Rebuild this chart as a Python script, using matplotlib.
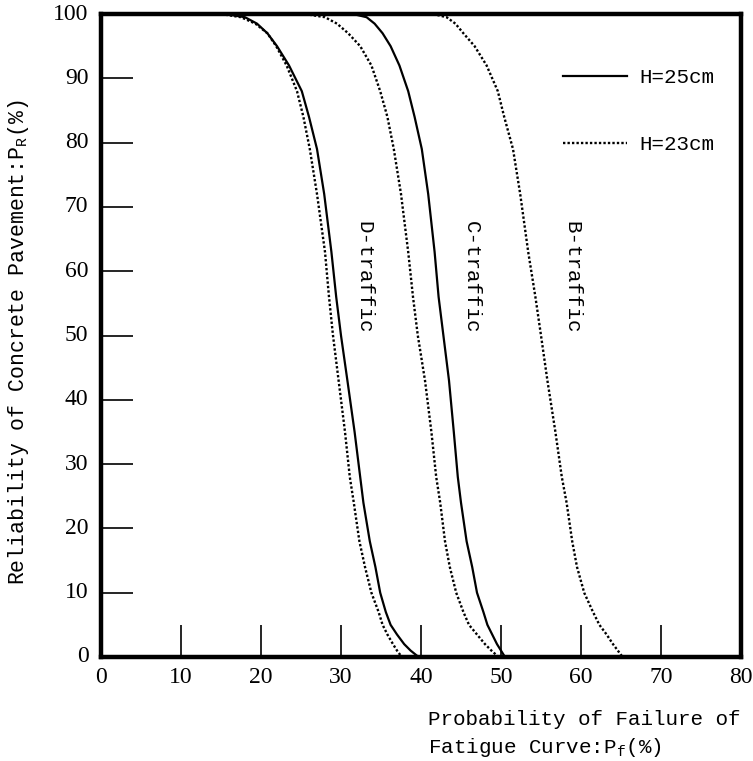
import matplotlib
matplotlib.use("Agg")
import matplotlib.pyplot as plt
from matplotlib.lines import Line2D

# reliability levels (y, %)
y_pts = [100, 99.5, 98.5, 97, 95, 92, 88, 84, 79, 72, 63, 56, 50, 43,
         35, 28, 24, 18, 14, 10, 7, 5, 3.5, 2, 1, 0]

# probability of failure (x, %) for each curve at those levels
d_25 = [15.5, 18.0, 19.5, 20.8, 22.0, 23.5, 25.1, 26.0, 27.0, 27.9, 28.8, 29.4, 30.0,
        30.8, 31.7, 32.4, 32.8, 33.6, 34.3, 34.9, 35.6, 36.2, 37.0, 37.9, 38.7, 39.7]
d_23 = [15.0, 17.5, 19.3, 20.8, 21.9, 23.2, 24.5, 25.3, 26.1, 27.0, 28.0, 28.5, 29.0,
        29.7, 30.5, 31.1, 31.6, 32.3, 33.0, 33.8, 34.7, 35.2, 35.8, 36.5, 37.0, 37.6]
c_25 = [31.5, 33.2, 34.2, 35.2, 36.2, 37.3, 38.4, 39.2, 40.1, 40.9, 41.7, 42.2, 42.8,
        43.5, 44.1, 44.6, 45.0, 45.7, 46.4, 47.0, 47.8, 48.3, 48.9, 49.5, 50.0, 50.5]
c_23 = [25.5, 28.0, 29.5, 30.9, 32.4, 33.8, 34.9, 35.8, 36.6, 37.5, 38.4, 39.0, 39.6,
        40.5, 41.3, 41.9, 42.4, 43.0, 43.6, 44.4, 45.3, 46.0, 47.0, 48.0, 48.8, 49.7]
b_23 = [41.5, 43.2, 44.3, 45.3, 46.7, 48.2, 49.6, 50.4, 51.5, 52.4, 53.4, 54.3, 55.0,
        55.8, 56.8, 57.6, 58.2, 58.9, 59.5, 60.4, 61.5, 62.3, 63.2, 64.0, 64.6, 65.2]

traffic_names = ["D-traffic", "C-traffic", "B-traffic"]
traffic_x = [32.8, 46.3, 58.9]
traffic_y = [59, 59, 59]

x_ticks = [10, 20, 30, 40, 50, 60, 70]
y_ticks = [10, 20, 30, 40, 50, 60, 70, 80, 90]
x_labels = [0, 10, 20, 30, 40, 50, 60, 70, 80]
y_labels = [0, 10, 20, 30, 40, 50, 60, 70, 80, 90, 100]

mono = "Liberation Mono"
serif = "Liberation Serif"
plt.rcParams["mathtext.fontset"] = "custom"
plt.rcParams["mathtext.rm"] = mono

fig = plt.figure(figsize=(7.53, 7.61), dpi=100)
ax = fig.add_axes([101 / 753, 1 - 657 / 761, 640 / 753, 643 / 761])

solid = dict(color="black", lw=1.6, linestyle="-")
dotted = dict(color="black", lw=1.7, linestyle=(0, (1, 0.9)))

ax.plot(d_25, y_pts, **solid)
ax.plot(c_25, y_pts, **solid)
ax.plot(d_23, y_pts, **dotted)
ax.plot(c_23, y_pts, **dotted)
ax.plot(b_23, y_pts, **dotted)

for name, tx, ty in zip(traffic_names, traffic_x, traffic_y):
    ax.text(tx, ty, name, rotation=-90, ha="center", va="center",
            fontsize=15, family=mono)

ax.set_xlim(0, 80)
ax.set_ylim(0, 100)

# long inward ticks; labels drawn separately since the end values have no tick
ax.set_xticks(x_ticks)
ax.set_yticks(y_ticks)
ax.tick_params(axis="both", direction="in", length=23, width=1.2,
               labelbottom=False, labelleft=False)
for s in ax.spines.values():
    s.set_linewidth(3.2)

for v in x_labels:
    ax.annotate(str(v), (v, 0), xytext=(0, -7), textcoords="offset points",
                ha="center", va="top", fontsize=17, family=serif,
                annotation_clip=False)
for v in y_labels:
    ax.annotate(str(v), (0, v), xytext=(-9, 0), textcoords="offset points",
                ha="right", va="center", fontsize=17, family=serif,
                annotation_clip=False)

ax.set_ylabel(r"Reliability of Concrete Pavement:P$_\mathregular{R}$(%)",
              fontsize=15.5, family=mono)
ax.yaxis.set_label_coords(-0.11, 0.49)
ax.set_xlabel("Probability of Failure of\n" + r"Fatigue Curve:P$_\mathregular{f}$(%)",
              fontsize=15, family=mono, ha="left", linespacing=1.45)
ax.xaxis.set_label_coords(0.511, -0.082)

handles = [Line2D([], [], **solid), Line2D([], [], **dotted)]
ax.legend(handles, ["H=25cm", "H=23cm"], loc="upper left",
          bbox_to_anchor=(0.705, 0.932), frameon=False, borderpad=0,
          handlelength=3.1, handletextpad=0.6, labelspacing=2.3,
          prop={"family": mono, "size": 15})

fig.savefig("out.png", dpi=100)
